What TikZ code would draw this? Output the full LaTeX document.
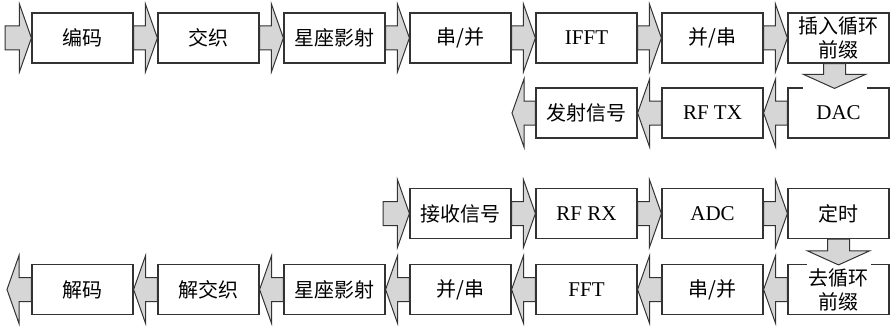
\documentclass[tikz,border=0pt]{standalone}
\usepackage{fontspec}
\setmainfont{Liberation Serif}
\newfontfamily\cjk{Noto Sans CJK SC}
\usetikzlibrary{calc,backgrounds}
\definecolor{arrowgray}{HTML}{D6D6D6}
\definecolor{edgec}{HTML}{333333}
\newcommand\latn[1]{{\fontsize{21}{24}\selectfont\raisebox{-2pt}{#1}}}
\newcommand\rarr[2]{%
 \filldraw[barrow] let \p1=(#1), \p2=(#2) in
 (\x1,\y1+12pt) -- (\x2-12pt,\y1+12pt) -- (\x2-12pt,\y1+34pt) -- (\x2,\y1) --
 (\x2-12pt,\y1-34pt) -- (\x2-12pt,\y1-12pt) -- (\x1,\y1-12pt) -- cycle;}
\newcommand\larr[2]{%
 \filldraw[barrow] let \p1=(#1), \p2=(#2) in
 (\x1,\y1+12pt) -- (\x2+12pt,\y1+12pt) -- (\x2+12pt,\y1+34pt) -- (\x2,\y1) --
 (\x2+12pt,\y1-34pt) -- (\x2+12pt,\y1-12pt) -- (\x1,\y1-12pt) -- cycle;}
\newcommand\darr[3]{%
 \draw[white,line width=2.5pt] let \p2=(#2) in (\x2+#3pt-32pt,\y2) -- (\x2+#3pt+32pt,\y2);
 \filldraw[barrow] let \p1=(#1), \p2=(#2) in
 (\x1+#3pt-11pt,\y1) -- (\x1+#3pt-11pt,\y2+13pt) -- (\x1+#3pt-31pt,\y2+13pt) --
 (\x1+#3pt,\y2-1pt) -- (\x1+#3pt+31pt,\y2+13pt) -- (\x1+#3pt+11pt,\y2+13pt) --
 (\x1+#3pt+11pt,\y1) -- cycle;}
\begin{document}
\begin{tikzpicture}[x=1pt,y=-1pt,
 blk/.style={draw=edgec, fill=white, line width=1.2pt, minimum width=101pt,
   minimum height=50pt, inner sep=0pt, align=center,
   font=\fontsize{20}{24}\selectfont},
 barrow/.style={draw=edgec, fill=arrowgray, line width=1pt, line join=miter}]
\useasboundingbox (0,0) rectangle (891,329);
% row 1
\node[blk] (a1) at (82.5,38) {\cjk 编码};
\node[blk] (a2) at (208.5,38) {\cjk 交织};
\node[blk] (a3) at (334.5,38) {\cjk 星座影射};
\node[blk] (a4) at (460.5,38) {\cjk 串/并};
\node[blk] (a5) at (586.5,38) {\latn{IFFT}};
\node[blk] (a6) at (712.5,38) {\cjk 并/串};
\node[blk] (a7) at (838.5,38) {\cjk 插入循环\\\cjk 前缀};
% row 2
\node[blk] (b7) at (838.5,113) {\latn{DAC}};
\node[blk] (b6) at (712.5,113) {\latn{RF TX}};
\node[blk] (b5) at (586.5,113) {\cjk 发射信号};
% row 3
\node[blk] (c4) at (460.5,213.5) {\cjk 接收信号};
\node[blk] (c5) at (586.5,213.5) {\latn{RF RX}};
\node[blk] (c6) at (712.5,213.5) {\latn{ADC}};
\node[blk] (c7) at (838.5,213.5) {\cjk 定时};
% row 4
\node[blk] (d7) at (838.5,289.5) {\cjk 去循环\\\cjk 前缀};
\node[blk] (d6) at (712.5,289.5) {\cjk 串/并};
\node[blk] (d5) at (586.5,289.5) {\latn{FFT}};
\node[blk] (d4) at (460.5,289.5) {\cjk 并/串};
\node[blk] (d3) at (334.5,289.5) {\cjk 星座影射};
\node[blk] (d2) at (208.5,289.5) {\cjk 解交织};
\node[blk] (d1) at (82.5,289.5) {\cjk 解码};
\coordinate (s1) at (5,38);
\coordinate (e2) at (512,113);
\coordinate (s3) at (383,213.5);
\coordinate (e4) at (7,289.5);
\begin{pgfonlayer}{background}
\rarr{s1}{a1.west}
\rarr{a1.east}{a2.west}
\rarr{a2.east}{a3.west}
\rarr{a3.east}{a4.west}
\rarr{a4.east}{a5.west}
\rarr{a5.east}{a6.west}
\rarr{a6.east}{a7.west}
\larr{b7.west}{b6.east}
\larr{b6.west}{b5.east}
\larr{b5.west}{e2}
\rarr{s3}{c4.west}
\rarr{c4.east}{c5.west}
\rarr{c5.east}{c6.west}
\rarr{c6.east}{c7.west}
\larr{d7.west}{d6.east}
\larr{d6.west}{d5.east}
\larr{d5.west}{d4.east}
\larr{d4.west}{d3.east}
\larr{d3.west}{d2.east}
\larr{d2.west}{d1.east}
\larr{d1.west}{e4}
\end{pgfonlayer}
\darr{a7.south}{b7.north}{-4}
\darr{c7.south}{d7.north}{0}
\end{tikzpicture}
\end{document}
